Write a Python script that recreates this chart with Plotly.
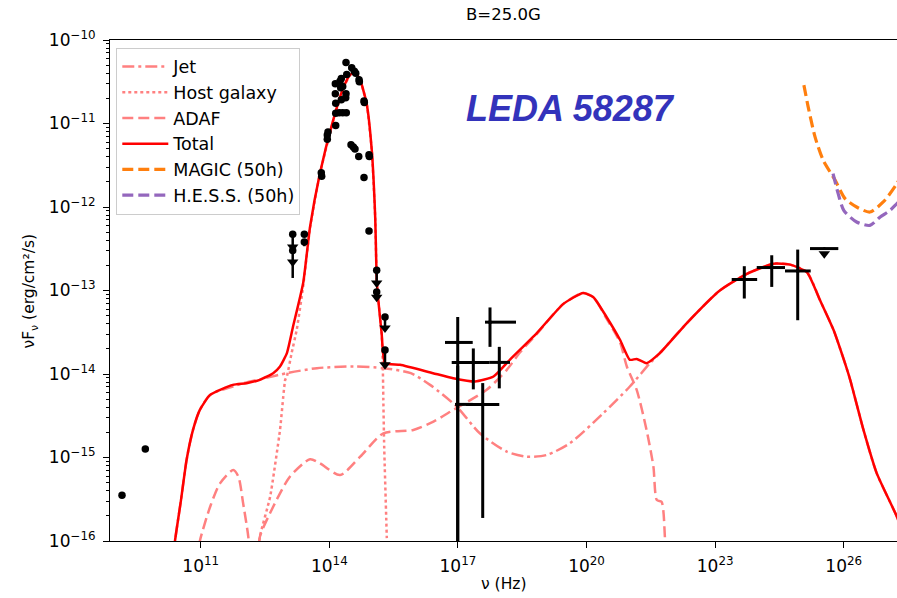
import numpy as np
import plotly.graph_objects as go

# ---------------- data (log10 nu [Hz], log10 nuFnu [erg/cm2/s]) ----------------
total_lx = [10.30, 10.40, 10.54, 10.67, 10.82, 10.98, 11.22, 11.75, 12.07, 12.38, 12.69, 12.85, 13.01,
            13.15, 13.39, 13.55, 13.78, 14.09, 14.32, 14.48, 14.60, 14.72, 14.87, 14.99, 15.07, 15.11,
            15.22, 15.30, 15.65, 16.42, 16.89, 17.40, 17.83, 18.21, 18.84, 19.46, 19.92, 20.16, 20.47,
            20.78, 21.01, 21.17, 21.40, 21.71, 22.34, 23.11, 23.74, 24.36, 24.75, 25.14, 25.45, 25.76,
            25.99, 26.15, 26.46, 26.77, 27.24, 27.40]
total_ly = [-16.5, -16.00, -15.51, -15.03, -14.67, -14.43, -14.25, -14.13, -14.11, -14.07, -13.99, -13.91,
            -13.75, -13.44, -12.91, -12.24, -11.60, -10.96, -10.58, -10.42, -10.39, -10.48, -10.76, -11.32,
            -12.12, -12.91, -13.51, -13.87, -13.89, -13.99, -14.05, -14.09, -14.03, -13.83, -13.51, -13.16,
            -13.03, -13.08, -13.32, -13.59, -13.83, -13.82, -13.87, -13.75, -13.39, -13.00, -12.80, -12.68,
            -12.69, -12.78, -13.12, -13.47, -13.81, -14.07, -14.67, -15.19, -15.71, -15.95]

jet_lx = [10.30, 10.40, 10.54, 10.67, 10.82, 10.98, 11.22, 11.75, 12.07, 12.50, 13.01, 13.71, 14.56, 15.26,
          15.90, 16.35, 16.97, 17.51, 18.14, 18.60, 19.07, 19.61, 20.39, 21.01, 21.48, 21.71, 22.34, 23.11,
          23.74, 24.36, 24.75, 25.14, 25.45, 25.76, 25.99, 26.15, 26.46, 26.77, 27.24, 27.40]
jet_ly = [-16.5, -16.00, -15.51, -15.03, -14.67, -14.43, -14.25, -14.15, -14.10, -14.05, -13.99, -13.93,
          -13.91, -13.93, -13.99, -14.13, -14.39, -14.71, -14.93, -14.99, -14.97, -14.83, -14.47, -14.15,
          -13.87, -13.75, -13.39, -13.00, -12.80, -12.68, -12.69, -12.78, -13.12, -13.47, -13.81, -14.07,
          -14.67, -15.19, -15.71, -15.95]

host_lx = [12.30, 12.38, 12.62, 12.85, 12.97, 13.01, 13.12, 13.24, 13.39, 13.55, 13.78, 14.09, 14.32, 14.48,
           14.60, 14.72, 14.87, 14.99, 15.07, 15.11, 15.22, 15.245, 15.26, 15.28, 15.34, 15.37]
host_ly = [-16.5, -15.95, -15.47, -14.67, -14.07, -14.03, -13.75, -13.47, -12.95, -12.25, -11.60, -10.97,
           -10.59, -10.42, -10.39, -10.48, -10.76, -11.32, -12.12, -12.92, -13.51, -13.83, -14.31, -14.87,
           -15.95, -16.5]

adaf_lx = [10.91, 10.98, 11.22, 11.45, 11.76, 11.88, 11.99, 12.11, 12.15, 12.25, 12.34, 12.38, 12.69, 13.08,
           13.55, 13.78, 14.25, 14.72, 15.26, 15.96, 16.43, 16.89, 17.67, 18.14, 18.45, 18.84, 19.46, 19.92,
           20.16, 20.47, 20.78, 20.94, 21.17, 21.40, 21.56, 21.64, 21.75, 21.83, 21.87]
adaf_ly = [-16.23, -16.00, -15.59, -15.31, -15.15, -15.23, -15.55, -15.95, -16.23, -16.6, -16.23, -15.95,
           -15.59, -15.23, -15.02, -15.07, -15.21, -14.99, -14.71, -14.67, -14.57, -14.43, -14.19, -13.95,
           -13.74, -13.52, -13.16, -13.03, -13.08, -13.34, -13.62, -13.91, -14.19, -14.67, -15.11, -15.51,
           -15.53, -15.97, -16.3]

magic_lx = [25.07, 25.17, 25.33, 25.52, 25.80, 26.03, 26.30, 26.61, 26.92, 27.24, 27.40]
magic_ly = [-10.54, -10.80, -11.16, -11.44, -11.68, -11.90, -12.00, -12.06, -11.94, -11.72, -11.55]

hess_lx = [25.75, 25.87, 26.00, 26.30, 26.61, 26.85, 27.08, 27.24, 27.40]
hess_ly = [-11.60, -11.84, -12.04, -12.18, -12.22, -12.12, -12.04, -11.96, -11.88]

# optical / IR / radio detections
pts_lx = [9.164, 9.708, 14.389, 14.522, 14.583, 14.616, 14.406, 14.280, 14.249, 14.140, 14.312, 14.266,
          14.693, 14.700, 14.140, 14.389, 14.382, 14.280, 14.149, 14.809, 14.816, 14.149, 14.233, 14.312,
          14.396, 14.149, 13.969, 13.953, 13.953, 14.506, 14.560, 14.599, 14.686, 14.926, 14.933, 13.813,
          13.822, 14.809, 14.926]
pts_ly = [-15.452, -14.898, -10.269, -10.333, -10.373, -10.397, -10.413, -10.461, -10.493, -10.524, -10.556,
          -10.572, -10.476, -10.500, -10.644, -10.644, -10.691, -10.715, -10.756, -10.732, -10.748, -10.876,
          -10.871, -10.871, -10.871, -11.023, -11.103, -11.139, -11.190, -11.254, -11.282, -11.306, -11.394,
          -11.373, -11.394, -11.589, -11.633, -11.648, -12.287]

# points with small vertical error
pe_lx = [13.417, 13.417]
pe_ly = [-12.327, -12.419]
pe_lo = [-12.36, -12.47]
pe_hi = [-12.30, -12.39]

# upper limits (value, end of arrow)
ul_lx = [13.146, 13.146, 15.105, 15.105, 15.299, 15.299]
ul_ly = [-12.327, -12.52, -12.757, -13.017, -13.316, -13.714]
ul_end = [-12.48, -12.85, -12.91, -13.08, -13.45, -13.89]
ul_head = [-12.48, -12.66, -12.91, -13.08, -13.45, -13.89]

# X-ray crosses
xr_lx = [16.995, 16.995, 17.578, 17.359, 17.965, 17.748]
xr_lx_lo = [16.698, 16.932, 17.190, 16.855, 17.730, 17.632]
xr_lx_hi = [17.345, 17.345, 17.965, 17.730, 18.215, 18.355]
xr_ly = [-13.622, -14.364, -14.364, -13.861, -13.861, -13.379]
xr_ly_lo = [-17.0, -17.0, -15.724, -14.184, -14.172, -13.675]
xr_ly_hi = [-13.316, -13.900, -14.109, -13.694, -13.675, -13.203]

# Fermi-LAT
fe_lx = [23.680, 24.320, 24.926]
fe_lx_lo = [23.386, 23.970, 24.630]
fe_lx_hi = [23.980, 24.630, 25.229]
fe_ly = [-12.868, -12.725, -12.766]
fe_ly_lo = [-13.096, -12.957, -13.356]
fe_ly_hi = [-12.709, -12.578, -12.510]
feul_lx = [25.546]
feul_lx_lo = [25.213]
feul_lx_hi = [25.873]
feul_ly = [-12.498]
feul_head = [-12.56]

yticks_exp = [-16, -15, -14, -13, -12, -11, -10]
xticks_exp = [11, 14, 17, 20, 23, 26]


def P(a):
    return 10 ** np.asarray(a, dtype=float)


fig = go.Figure()
comp_color = "#ff8080"
SM = 0.7
fig.add_trace(go.Scatter(x=P(jet_lx), y=P(jet_ly), mode="lines", name="Jet",
                         line=dict(color=comp_color, width=2.5, dash="12px,4px,3px,4px",
                                   shape="spline", smoothing=SM)))
fig.add_trace(go.Scatter(x=P(host_lx), y=P(host_ly), mode="lines", name="Host galaxy",
                         line=dict(color=comp_color, width=2.5, dash="3px,3px",
                                   shape="spline", smoothing=0.4)))
fig.add_trace(go.Scatter(x=P(adaf_lx), y=P(adaf_ly), mode="lines", name="ADAF",
                         line=dict(color=comp_color, width=2.5, dash="11px,5px",
                                   shape="spline", smoothing=SM)))
fig.add_trace(go.Scatter(x=P(total_lx), y=P(total_ly), mode="lines", name="Total",
                         line=dict(color="#ff0000", width=2.5, shape="spline", smoothing=0.5)))
fig.add_trace(go.Scatter(x=P(magic_lx), y=P(magic_ly), mode="lines", name="MAGIC (50h)",
                         line=dict(color="#ff7f0e", width=3.2, dash="11px,5px",
                                   shape="spline", smoothing=SM)))
fig.add_trace(go.Scatter(x=P(hess_lx), y=P(hess_ly), mode="lines", name="H.E.S.S. (50h)",
                         line=dict(color="#9467bd", width=3.2, dash="11px,5px",
                                   shape="spline", smoothing=SM)))

# detections
fig.add_trace(go.Scatter(x=P(pts_lx), y=P(pts_ly), mode="markers", showlegend=False,
                         marker=dict(color="black", size=7.5)))
pe_y = P(pe_ly)
fig.add_trace(go.Scatter(x=P(pe_lx), y=pe_y, mode="markers", showlegend=False,
                         marker=dict(color="black", size=7.5),
                         error_y=dict(type="data", symmetric=False, array=P(pe_hi) - pe_y,
                                      arrayminus=pe_y - P(pe_lo), color="black", thickness=2.5, width=0)))
# upper limits
ul_y = P(ul_ly)
fig.add_trace(go.Scatter(x=P(ul_lx), y=ul_y, mode="markers", showlegend=False,
                         marker=dict(color="black", size=7.5),
                         error_y=dict(type="data", symmetric=False, array=np.zeros(len(ul_y)),
                                      arrayminus=ul_y - P(ul_end), color="black", thickness=2.5, width=0)))
fig.add_trace(go.Scatter(x=P(ul_lx), y=P(ul_head), mode="markers", showlegend=False,
                         marker=dict(color="black", size=10, symbol="triangle-down")))

# X-ray
xr_x = P(xr_lx); xr_y = P(xr_ly)
fig.add_trace(go.Scatter(x=xr_x, y=xr_y, mode="markers", showlegend=False,
                         marker=dict(color="black", size=4),
                         error_x=dict(type="data", symmetric=False, array=P(xr_lx_hi) - xr_x,
                                      arrayminus=xr_x - P(xr_lx_lo), color="black", thickness=3, width=0),
                         error_y=dict(type="data", symmetric=False, array=P(xr_ly_hi) - xr_y,
                                      arrayminus=xr_y - P(xr_ly_lo), color="black", thickness=3, width=0)))
# Fermi
fe_x = P(fe_lx); fe_y = P(fe_ly)
fig.add_trace(go.Scatter(x=fe_x, y=fe_y, mode="markers", showlegend=False,
                         marker=dict(color="black", size=4),
                         error_x=dict(type="data", symmetric=False, array=P(fe_lx_hi) - fe_x,
                                      arrayminus=fe_x - P(fe_lx_lo), color="black", thickness=3, width=0),
                         error_y=dict(type="data", symmetric=False, array=P(fe_ly_hi) - fe_y,
                                      arrayminus=fe_y - P(fe_ly_lo), color="black", thickness=3, width=0)))
fu_x = P(feul_lx); fu_y = P(feul_ly)
fig.add_trace(go.Scatter(x=fu_x, y=fu_y, mode="markers", showlegend=False,
                         marker=dict(color="black", size=3),
                         error_x=dict(type="data", symmetric=False, array=P(feul_lx_hi) - fu_x,
                                      arrayminus=fu_x - P(feul_lx_lo), color="black", thickness=3, width=0)))
fig.add_trace(go.Scatter(x=fu_x, y=P(feul_head), mode="markers", showlegend=False,
                         marker=dict(color="black", size=10, symbol="triangle-down")))

minor_y = [k * 10.0 ** e for e in range(-16, -10) for k in range(2, 10)]

fig.update_layout(
    width=897, height=598,
    margin=dict(l=110, r=0, t=40, b=57),
    paper_bgcolor="white", plot_bgcolor="white",
    font=dict(family="DejaVu Sans", size=16, color="black"),
    showlegend=True,
    legend=dict(x=0.008, y=0.985, xanchor="left", yanchor="top",
                bgcolor="rgba(255,255,255,0.85)", bordercolor="#cccccc", borderwidth=1,
                font=dict(size=17.5, family="DejaVu Sans"), tracegroupgap=0, itemwidth=46),
    xaxis=dict(type="log", range=[8.884, 27.242], showgrid=False, zeroline=False,
               showline=True, linecolor="black", linewidth=1, mirror=True,
               ticks="outside", ticklen=6, tickwidth=1, tickcolor="black",
               tickvals=[10.0 ** e for e in xticks_exp],
               ticktext=["10<sup>%d</sup>" % e for e in xticks_exp],
               tickfont=dict(size=17), ticklabelstandoff=4),
    yaxis=dict(type="log", range=[-16, -10], showgrid=False, zeroline=False,
               showline=True, linecolor="black", linewidth=1, mirror=False,
               ticks="outside", ticklen=6, tickwidth=1, tickcolor="black",
               tickvals=[10.0 ** e for e in yticks_exp],
               ticktext=["10<sup>\u2212%d</sup>" % (-e) for e in yticks_exp],
               tickfont=dict(size=17), ticklabelstandoff=4,
               minor=dict(tickvals=minor_y, ticks="outside", ticklen=3, tickcolor="black", showgrid=False)),
    annotations=[
        dict(text="B=25.0G", xref="paper", yref="paper", x=0.5, y=1.051, showarrow=False,
             xanchor="center", yanchor="middle", font=dict(size=16.5)),
        dict(text="\u03bd (Hz)", xref="paper", yref="paper", x=0.5, y=-0.086, showarrow=False,
             xanchor="center", yanchor="middle", font=dict(size=15.5)),
        dict(text="\u03bdF<sub>\u03bd</sub> (erg/cm\u00b2/s)", xref="paper", yref="paper", x=-0.1017, y=0.50,
             showarrow=False, textangle=-90, xanchor="center", yanchor="middle", font=dict(size=15.5)),
        dict(text="<b><i>LEDA 58287</i></b>", xref="paper", yref="paper", x=0.5845, y=0.8634,
             showarrow=False, xanchor="center", yanchor="middle",
             font=dict(size=36, family="Liberation Sans", color="#3333bb")),
    ],
)

fig.write_html("out.html")
